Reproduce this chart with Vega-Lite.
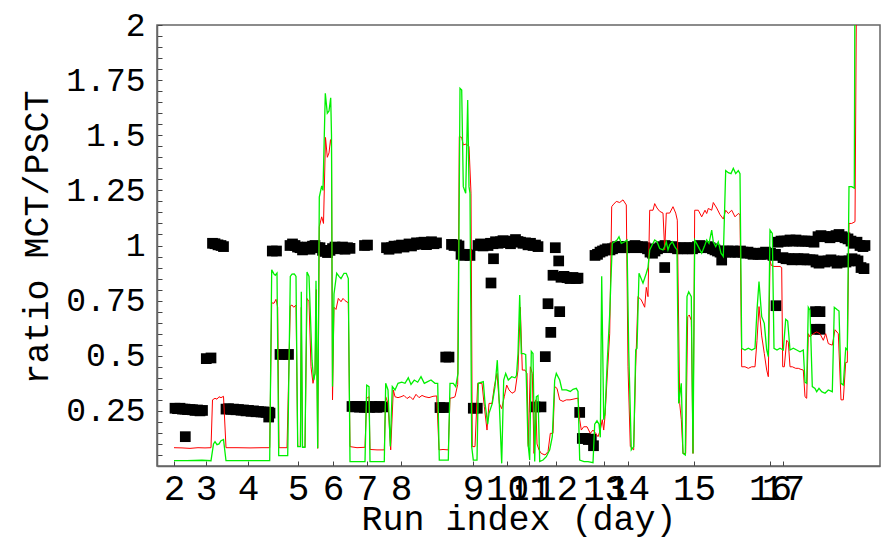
{
  "$schema": "https://vega.github.io/schema/vega-lite/v6.json",
  "autosize": {"type": "none"},
  "padding": {"left": 157, "top": 25, "right": 2, "bottom": 71},
  "width": 723,
  "height": 441,
  "background": "white",
  "config": {
    "view": {"stroke": "#666666", "strokeWidth": 1.5},
    "axis": {"grid": false, "domainColor": "#666666", "domainWidth": 1.5, "tickColor": "#444444", "tickWidth": 1, "labelColor": "black", "titleColor": "black", "labelFont": "Liberation Mono", "titleFont": "Liberation Mono", "titleFontWeight": "normal"}
  },
  "datasets": {
    "red": [
      {"x":17,"y":0.083},{"x":25,"y":0.082},{"x":33,"y":0.08},{"x":41,"y":0.083},{"x":48,"y":0.082},{"x":54,"y":0.083},{"x":55.5,"y":0.3},{"x":58,"y":0.307},{"x":60,"y":0.303},{"x":62,"y":0.314},{"x":64,"y":0.31},{"x":66.5,"y":0.316},{"x":69,"y":0.083},{"x":80,"y":0.083},{"x":93,"y":0.082},{"x":105,"y":0.083},{"x":112.7,"y":0.083},{"x":114.7,"y":0.74},{"x":117,"y":0.738},{"x":119,"y":0.756},{"x":120.7,"y":0.72},{"x":122,"y":0.083},{"x":130,"y":0.083},{"x":133.3,"y":0.726},{"x":135,"y":0.73},{"x":136.7,"y":0.72},{"x":139,"y":0.73},{"x":140.7,"y":0.09},{"x":143.3,"y":0.088},{"x":144.3,"y":0.72},{"x":145.5,"y":0.085},{"x":148,"y":0.085},{"x":150,"y":0.76},{"x":152,"y":0.745},{"x":154,"y":0.45},{"x":156,"y":0.375},{"x":158,"y":0.42},{"x":159.3,"y":0.8},{"x":160.7,"y":0.08},{"x":162.3,"y":1.085},{"x":164.7,"y":1.13},{"x":166.5,"y":1.1},{"x":168.5,"y":1.49},{"x":170.3,"y":1.4},{"x":172,"y":1.42},{"x":173.5,"y":1.48},{"x":174.5,"y":1.45},{"x":175.5,"y":0.3},{"x":177,"y":0.72},{"x":179,"y":0.71},{"x":181.3,"y":0.76},{"x":184,"y":0.745},{"x":186,"y":0.76},{"x":188,"y":0.75},{"x":191.3,"y":0.74},{"x":193,"y":0.088},{"x":200,"y":0.083},{"x":208,"y":0.085},{"x":209.7,"y":0.307},{"x":212,"y":0.314},{"x":213,"y":0.075},{"x":220,"y":0.073},{"x":227.3,"y":0.073},{"x":228.7,"y":0.314},{"x":231,"y":0.284},{"x":233.7,"y":0.073},{"x":236.3,"y":0.345},{"x":238,"y":0.314},{"x":241,"y":0.31},{"x":244,"y":0.314},{"x":247,"y":0.32},{"x":250,"y":0.306},{"x":253,"y":0.315},{"x":256,"y":0.301},{"x":259,"y":0.325},{"x":262,"y":0.31},{"x":265,"y":0.32},{"x":268,"y":0.314},{"x":272,"y":0.31},{"x":276,"y":0.316},{"x":279.7,"y":0.318},{"x":282,"y":0.073},{"x":286,"y":0.075},{"x":291.3,"y":0.073},{"x":293,"y":0.307},{"x":296,"y":0.31},{"x":298,"y":0.314},{"x":300.7,"y":0.37},{"x":302.3,"y":1.494},{"x":304.7,"y":1.49},{"x":306.3,"y":1.456},{"x":309,"y":1.46},{"x":312,"y":1.45},{"x":314,"y":1.237},{"x":315.3,"y":0.088},{"x":318,"y":0.088},{"x":320.7,"y":0.375},{"x":325,"y":0.375},{"x":327.3,"y":0.27},{"x":330,"y":0.163},{"x":332,"y":0.284},{"x":335,"y":0.284},{"x":337.3,"y":0.36},{"x":340,"y":0.42},{"x":342.3,"y":0.284},{"x":344.7,"y":0.26},{"x":347.3,"y":0.314},{"x":349.7,"y":0.367},{"x":352,"y":0.345},{"x":355,"y":0.33},{"x":358,"y":0.338},{"x":361,"y":0.435},{"x":363.3,"y":0.72},{"x":365.3,"y":0.435},{"x":368,"y":0.435},{"x":370,"y":0.42},{"x":371.3,"y":0.088},{"x":373.3,"y":0.45},{"x":375.3,"y":0.42},{"x":377,"y":0.057},{"x":378.7,"y":0.3},{"x":380,"y":0.1},{"x":382,"y":0.073},{"x":384.3,"y":0.057},{"x":388,"y":0.05},{"x":391,"y":0.065},{"x":393.3,"y":0.148},{"x":396,"y":0.148},{"x":397.7,"y":0.36},{"x":400,"y":0.352},{"x":402.7,"y":0.3},{"x":406,"y":0.293},{"x":409.3,"y":0.3},{"x":413,"y":0.3},{"x":416,"y":0.303},{"x":421,"y":0.308},{"x":422.7,"y":0.21},{"x":424.3,"y":0.163},{"x":426.7,"y":0.178},{"x":430,"y":0.178},{"x":433.3,"y":0.148},{"x":436,"y":0.163},{"x":438.7,"y":0.148},{"x":441,"y":0.133},{"x":443.3,"y":0.163},{"x":445.3,"y":0.21},{"x":446.7,"y":0.163},{"x":448,"y":0.225},{"x":450,"y":0.39},{"x":452.7,"y":0.6},{"x":454.7,"y":1.176},{"x":456,"y":1.184},{"x":459.3,"y":1.2},{"x":462.7,"y":1.195},{"x":466,"y":1.207},{"x":469.3,"y":1.184},{"x":471,"y":0.45},{"x":473.3,"y":0.088},{"x":476.7,"y":0.073},{"x":478.7,"y":0.45},{"x":481,"y":0.768},{"x":484.3,"y":0.753},{"x":487.7,"y":0.72},{"x":489.3,"y":0.81},{"x":491,"y":0.768},{"x":492.7,"y":1.16},{"x":496,"y":1.16},{"x":497.7,"y":1.19},{"x":500,"y":1.17},{"x":502.7,"y":1.155},{"x":506,"y":1.147},{"x":507.7,"y":0.98},{"x":509.3,"y":1.147},{"x":512.7,"y":1.147},{"x":516,"y":1.176},{"x":518.7,"y":1.147},{"x":520.3,"y":1.115},{"x":522.7,"y":0.284},{"x":524.3,"y":0.21},{"x":526,"y":0.057},{"x":528.7,"y":0.057},{"x":530.7,"y":0.677},{"x":532.3,"y":0.685},{"x":534.3,"y":0.66},{"x":536,"y":0.057},{"x":537.7,"y":1.16},{"x":541.3,"y":1.16},{"x":544.7,"y":1.13},{"x":548,"y":1.16},{"x":549.7,"y":1.145},{"x":551.3,"y":1.168},{"x":554.7,"y":1.16},{"x":556.3,"y":1.195},{"x":559.7,"y":1.17},{"x":563,"y":1.14},{"x":566.3,"y":1.12},{"x":568.7,"y":1.16},{"x":571.3,"y":1.145},{"x":574.7,"y":1.16},{"x":578,"y":1.13},{"x":581.3,"y":1.145},{"x":583,"y":1.14},{"x":584.7,"y":0.45},{"x":588,"y":0.45},{"x":591.3,"y":0.443},{"x":594.7,"y":0.45},{"x":598,"y":0.45},{"x":600,"y":0.57},{"x":602,"y":0.723},{"x":604.7,"y":0.59},{"x":607.3,"y":0.51},{"x":609.7,"y":0.435},{"x":611.3,"y":0.405},{"x":613,"y":0.93},{"x":614.3,"y":0.91},{"x":617,"y":0.905},{"x":620,"y":0.905},{"x":623,"y":0.905},{"x":624.7,"y":0.9},{"x":625.7,"y":0.45},{"x":627.3,"y":0.45},{"x":629.7,"y":0.57},{"x":631.3,"y":0.562},{"x":633,"y":0.45},{"x":635.3,"y":0.45},{"x":638.7,"y":0.443},{"x":641.3,"y":0.443},{"x":644,"y":0.438},{"x":646.3,"y":0.435},{"x":648,"y":0.314},{"x":649.7,"y":0.307},{"x":651.3,"y":0.6},{"x":653,"y":0.585},{"x":656.3,"y":0.6},{"x":659.7,"y":0.608},{"x":663,"y":0.6},{"x":666.3,"y":0.57},{"x":668.7,"y":0.6},{"x":671.3,"y":0.555},{"x":675.3,"y":0.548},{"x":678,"y":0.618},{"x":681.3,"y":0.6},{"x":684,"y":0.3},{"x":686.3,"y":0.3},{"x":688.7,"y":0.47},{"x":690.3,"y":0.47},{"x":692,"y":1.1},{"x":694.7,"y":1.1},{"x":698,"y":1.108},{"x":699.7,"y":2.3}
    ],
    "green": [
      {"x":17,"y":0.024},{"x":30,"y":0.024},{"x":45,"y":0.026},{"x":54,"y":0.024},{"x":56.5,"y":0.1},{"x":58,"y":0.11},{"x":60,"y":0.097},{"x":62,"y":0.1},{"x":64,"y":0.115},{"x":66.5,"y":0.12},{"x":69,"y":0.024},{"x":90,"y":0.024},{"x":112.7,"y":0.024},{"x":114.7,"y":0.89},{"x":117,"y":0.87},{"x":118.3,"y":0.865},{"x":120,"y":0.875},{"x":121.7,"y":0.047},{"x":125,"y":0.047},{"x":130.7,"y":0.047},{"x":133.3,"y":0.86},{"x":135,"y":0.87},{"x":137.3,"y":0.871},{"x":139,"y":0.86},{"x":140.7,"y":0.088},{"x":143.5,"y":0.088},{"x":144.3,"y":0.79},{"x":145.5,"y":0.085},{"x":148,"y":0.085},{"x":150,"y":0.88},{"x":152,"y":0.86},{"x":155,"y":0.48},{"x":156.7,"y":0.39},{"x":158,"y":0.42},{"x":159,"y":0.84},{"x":160.7,"y":0.08},{"x":162.3,"y":1.22},{"x":164.7,"y":1.27},{"x":166,"y":1.25},{"x":168.3,"y":1.69},{"x":170.3,"y":1.6},{"x":172,"y":1.61},{"x":173.7,"y":1.67},{"x":174.5,"y":1.5},{"x":175.5,"y":0.36},{"x":177,"y":0.78},{"x":179.7,"y":0.874},{"x":182,"y":0.86},{"x":184,"y":0.85},{"x":187,"y":0.874},{"x":189.3,"y":0.874},{"x":191.3,"y":0.85},{"x":193,"y":0.02},{"x":200,"y":0.02},{"x":208,"y":0.02},{"x":209.7,"y":0.367},{"x":212,"y":0.36},{"x":213,"y":0.02},{"x":220,"y":0.02},{"x":227.3,"y":0.02},{"x":228.7,"y":0.375},{"x":231,"y":0.345},{"x":233.3,"y":0.088},{"x":235.3,"y":0.36},{"x":238,"y":0.345},{"x":241,"y":0.375},{"x":244.7,"y":0.38},{"x":248,"y":0.375},{"x":251.3,"y":0.4},{"x":254,"y":0.37},{"x":257.3,"y":0.39},{"x":260.7,"y":0.38},{"x":264,"y":0.405},{"x":267.3,"y":0.375},{"x":270.7,"y":0.383},{"x":274,"y":0.39},{"x":278,"y":0.375},{"x":280.7,"y":0.375},{"x":282.3,"y":0.027},{"x":288,"y":0.027},{"x":291.3,"y":0.027},{"x":293,"y":0.375},{"x":296.3,"y":0.375},{"x":298.7,"y":0.36},{"x":301,"y":0.42},{"x":303,"y":1.713},{"x":304.7,"y":1.705},{"x":306.3,"y":1.267},{"x":308.7,"y":1.237},{"x":310.7,"y":1.66},{"x":312,"y":1.267},{"x":313,"y":1.237},{"x":314.7,"y":0.088},{"x":316.3,"y":0.027},{"x":320,"y":0.027},{"x":321.3,"y":0.375},{"x":326.3,"y":0.383},{"x":328,"y":0.284},{"x":330.7,"y":0.19},{"x":332,"y":0.239},{"x":335.3,"y":0.284},{"x":338,"y":0.36},{"x":340.3,"y":0.48},{"x":342.3,"y":0.284},{"x":344.7,"y":0.012},{"x":346.7,"y":0.39},{"x":348.7,"y":0.42},{"x":351.3,"y":0.39},{"x":354.7,"y":0.405},{"x":358,"y":0.4},{"x":359.5,"y":0.41},{"x":361,"y":0.51},{"x":362.7,"y":0.775},{"x":364.3,"y":0.51},{"x":366.7,"y":0.51},{"x":368.7,"y":0.505},{"x":371,"y":0.103},{"x":372.7,"y":0.027},{"x":374.3,"y":0.52},{"x":376,"y":0.51},{"x":377.7,"y":0.02},{"x":379.3,"y":0.314},{"x":381,"y":0.32},{"x":382.7,"y":0.02},{"x":386,"y":0.027},{"x":389.3,"y":0.042},{"x":392.7,"y":0.073},{"x":395.3,"y":0.133},{"x":397.7,"y":0.39},{"x":399.3,"y":0.42},{"x":402.7,"y":0.39},{"x":405,"y":0.345},{"x":409.3,"y":0.345},{"x":413.3,"y":0.338},{"x":416,"y":0.348},{"x":419.3,"y":0.352},{"x":421,"y":0.338},{"x":422.7,"y":0.027},{"x":427,"y":0.02},{"x":431,"y":0.02},{"x":436,"y":0.015},{"x":437.7,"y":0.19},{"x":440,"y":0.205},{"x":442,"y":0.19},{"x":443.3,"y":0.13},{"x":444.7,"y":0.86},{"x":446.7,"y":0.21},{"x":448,"y":0.239},{"x":450,"y":0.45},{"x":452.7,"y":0.69},{"x":455.3,"y":1.01},{"x":457.7,"y":1.017},{"x":460,"y":1.025},{"x":462,"y":1.04},{"x":464.3,"y":1.01},{"x":467.7,"y":1.017},{"x":470,"y":1.025},{"x":471.7,"y":0.526},{"x":474.3,"y":0.073},{"x":476.7,"y":0.088},{"x":478.7,"y":0.526},{"x":480,"y":0.534},{"x":482,"y":0.874},{"x":486,"y":0.829},{"x":489.3,"y":0.874},{"x":491,"y":0.9},{"x":492.7,"y":0.98},{"x":496,"y":1.01},{"x":497.7,"y":1.025},{"x":500,"y":1.017},{"x":502.7,"y":0.986},{"x":506,"y":0.98},{"x":507.7,"y":0.995},{"x":509.3,"y":1.017},{"x":511,"y":0.98},{"x":512.7,"y":1.003},{"x":515.3,"y":1.017},{"x":517.7,"y":0.995},{"x":520,"y":0.98},{"x":521.7,"y":0.284},{"x":524.3,"y":0.375},{"x":526,"y":0.057},{"x":528.3,"y":0.05},{"x":530,"y":0.768},{"x":531.7,"y":0.79},{"x":534.3,"y":0.768},{"x":536,"y":0.057},{"x":537.7,"y":1.025},{"x":541.3,"y":0.995},{"x":544.7,"y":0.965},{"x":547.3,"y":0.995},{"x":549.7,"y":1.025},{"x":552,"y":1.01},{"x":554.7,"y":1.07},{"x":556.3,"y":1.017},{"x":558.7,"y":0.995},{"x":561.3,"y":1.017},{"x":564,"y":0.965},{"x":566.3,"y":0.95},{"x":568.7,"y":1.34},{"x":571.3,"y":1.33},{"x":574,"y":1.326},{"x":576.3,"y":1.35},{"x":578.7,"y":1.326},{"x":581.3,"y":1.34},{"x":583,"y":1.326},{"x":584.7,"y":0.534},{"x":588,"y":0.526},{"x":591.3,"y":0.534},{"x":594.7,"y":0.526},{"x":598,"y":0.534},{"x":600,"y":0.707},{"x":602,"y":0.836},{"x":604.7,"y":0.677},{"x":607.3,"y":0.647},{"x":609.7,"y":0.526},{"x":611.3,"y":0.496},{"x":613,"y":1.07},{"x":615.3,"y":1.055},{"x":617,"y":0.534},{"x":620,"y":0.526},{"x":623,"y":0.534},{"x":626.3,"y":0.526},{"x":628.7,"y":0.665},{"x":630.7,"y":0.657},{"x":633,"y":0.526},{"x":636.3,"y":0.534},{"x":639.7,"y":0.526},{"x":643,"y":0.518},{"x":646.3,"y":0.526},{"x":648,"y":0.38},{"x":649.7,"y":0.375},{"x":651.3,"y":0.72},{"x":653,"y":0.707},{"x":655.3,"y":0.36},{"x":658,"y":0.352},{"x":659.7,"y":0.337},{"x":662,"y":0.352},{"x":664.7,"y":0.337},{"x":668,"y":0.33},{"x":671.3,"y":0.345},{"x":675.3,"y":0.337},{"x":677.3,"y":0.72},{"x":680,"y":0.71},{"x":682,"y":0.703},{"x":684,"y":0.375},{"x":686.3,"y":0.367},{"x":688.7,"y":0.534},{"x":690.3,"y":0.526},{"x":692,"y":1.267},{"x":694.7,"y":1.267},{"x":697.3,"y":1.26},{"x":698,"y":2.3}
    ],
    "pts": [
      {"x":18,"y":0.262},{"x":20.5,"y":0.26},{"x":23,"y":0.262},{"x":25.5,"y":0.258},{"x":28,"y":0.258},{"x":30.5,"y":0.256},{"x":33,"y":0.256},{"x":35.5,"y":0.255},{"x":38,"y":0.252},{"x":40.5,"y":0.254},{"x":43,"y":0.25},{"x":45.5,"y":0.252},
      {"x":28.3,"y":0.133},{"x":49.3,"y":0.487},{"x":54,"y":0.49},
      {"x":55.5,"y":1.01},{"x":58,"y":1.008},{"x":61,"y":1.003},{"x":64,"y":1.0},{"x":66.5,"y":0.995},
      {"x":69,"y":0.258},{"x":71.5,"y":0.26},{"x":74,"y":0.257},{"x":76.5,"y":0.258},{"x":79,"y":0.255},{"x":81.5,"y":0.256},{"x":84,"y":0.253},{"x":86.5,"y":0.254},{"x":89,"y":0.25},{"x":91.5,"y":0.252},{"x":94,"y":0.248},{"x":96.5,"y":0.25},{"x":99,"y":0.246},{"x":101.5,"y":0.247},{"x":104,"y":0.245},{"x":106.5,"y":0.245},{"x":109,"y":0.243},{"x":111.5,"y":0.244},{"x":113,"y":0.24},{"x":111.7,"y":0.222},
      {"x":115.3,"y":0.975},{"x":119.5,"y":0.975},{"x":123,"y":0.506},{"x":127.5,"y":0.506},{"x":131.5,"y":0.506},
      {"x":133,"y":1.0},{"x":135.5,"y":1.007},{"x":138,"y":1.0},{"x":140.5,"y":0.993},{"x":143,"y":0.99},{"x":145.5,"y":0.98},{"x":148,"y":0.986},{"x":150.5,"y":0.993},{"x":153,"y":0.983},{"x":155.5,"y":0.997},{"x":158,"y":1.0},{"x":160.5,"y":0.99},{"x":163,"y":0.99},{"x":165.5,"y":0.978},{"x":168,"y":0.973},{"x":170.5,"y":0.968},{"x":173,"y":0.978},{"x":175.5,"y":0.986},{"x":178,"y":0.993},{"x":180.5,"y":0.985},{"x":183,"y":0.99},{"x":185.5,"y":0.993},{"x":188,"y":0.983},{"x":190.5,"y":0.99},{"x":193,"y":0.987},
      {"x":207.5,"y":1.0},{"x":210.5,"y":1.002},
      {"x":195,"y":0.27},{"x":197.5,"y":0.268},{"x":200,"y":0.27},{"x":202.5,"y":0.267},{"x":205,"y":0.27},{"x":207.5,"y":0.266},{"x":210,"y":0.268},{"x":212.5,"y":0.266},{"x":215,"y":0.27},{"x":217.5,"y":0.268},{"x":220,"y":0.266},{"x":222.5,"y":0.27},{"x":226,"y":0.268},
      {"x":229.5,"y":0.99},{"x":232,"y":0.983},{"x":234.5,"y":0.99},{"x":237,"y":0.997},{"x":239.5,"y":0.988},{"x":242,"y":0.998},{"x":244.5,"y":1.002},{"x":247,"y":0.993},{"x":249.5,"y":1.0},{"x":252,"y":1.007},{"x":254.5,"y":0.998},{"x":257,"y":1.005},{"x":259.5,"y":1.012},{"x":262,"y":1.006},{"x":264.5,"y":1.012},{"x":267,"y":1.015},{"x":269.5,"y":1.004},{"x":272,"y":1.01},{"x":274.5,"y":1.017},{"x":277,"y":1.008},{"x":279.5,"y":1.012},
      {"x":283,"y":0.265},{"x":287,"y":0.265},{"x":288.7,"y":0.494},{"x":292,"y":0.494},
      {"x":294.5,"y":1.005},{"x":297,"y":1.0},{"x":299.5,"y":1.003},{"x":302,"y":0.998},
      {"x":304,"y":0.96},{"x":307,"y":0.955},{"x":310,"y":0.96},{"x":313,"y":0.955},
      {"x":316.3,"y":0.262},{"x":320.3,"y":0.262},
      {"x":321,"y":1.0},{"x":323.5,"y":1.007},{"x":326,"y":0.998},{"x":328.5,"y":1.005},{"x":331,"y":1.0},{"x":333.5,"y":1.01},{"x":336,"y":1.008},{"x":338.5,"y":1.017},{"x":341,"y":1.01},{"x":343.5,"y":1.017},{"x":346,"y":1.022},{"x":348.5,"y":1.016},{"x":351,"y":1.013},{"x":353.5,"y":1.008},{"x":356,"y":1.02},{"x":358.5,"y":1.027},{"x":361,"y":1.018},{"x":363.5,"y":1.015},{"x":366,"y":1.01},{"x":368.5,"y":1.012},{"x":371,"y":1.003},{"x":373.5,"y":1.01},{"x":376,"y":1.0},{"x":378.5,"y":1.002},{"x":381,"y":0.995},
      {"x":336.5,"y":0.94},{"x":334,"y":0.83},{"x":378,"y":0.268},{"x":384,"y":0.268},
      {"x":398.3,"y":0.99},{"x":401.7,"y":0.93},{"x":396,"y":0.865},{"x":404,"y":0.856},{"x":407,"y":0.86},{"x":410,"y":0.854},{"x":413,"y":0.85},{"x":416,"y":0.855},{"x":419,"y":0.85},{"x":421,"y":0.852},{"x":391,"y":0.736},{"x":402.7,"y":0.7},{"x":393.8,"y":0.606},{"x":388.3,"y":0.496},{"x":422.7,"y":0.243},{"x":425.3,"y":0.125},{"x":428.3,"y":0.125},{"x":431.3,"y":0.12},{"x":434.3,"y":0.122},{"x":436.5,"y":0.092},
      {"x":438,"y":0.955},{"x":440.5,"y":0.96},{"x":443,"y":0.97},{"x":445.5,"y":0.975},{"x":448,"y":0.98},{"x":450.5,"y":0.985},{"x":453,"y":0.98},{"x":455.5,"y":0.985},{"x":458,"y":0.99},{"x":460.5,"y":0.995},{"x":463,"y":0.99},{"x":465.5,"y":0.995},{"x":468,"y":0.99},{"x":470.5,"y":0.995},{"x":473,"y":0.99},{"x":475.5,"y":0.995},{"x":478,"y":1.0},{"x":480.5,"y":0.995},{"x":483,"y":0.99},{"x":485.5,"y":0.995},{"x":488,"y":0.99},{"x":490.5,"y":0.985},{"x":493,"y":0.97},{"x":495.5,"y":0.965},{"x":498,"y":0.975},{"x":500.5,"y":0.985},{"x":503,"y":0.99},{"x":505.5,"y":0.995},{"x":508,"y":1.0},{"x":510.5,"y":0.995},{"x":513,"y":0.99},{"x":515.5,"y":0.995},{"x":518,"y":0.99},{"x":520.5,"y":0.985},{"x":523,"y":0.99},{"x":525.5,"y":0.985},{"x":528,"y":0.99},{"x":530.5,"y":0.985},{"x":533,"y":0.99},{"x":535.5,"y":0.985},{"x":507.7,"y":0.9},
      {"x":538,"y":0.99},{"x":540.5,"y":0.995},{"x":543,"y":1.0},{"x":545.5,"y":0.995},{"x":548,"y":0.99},{"x":550.5,"y":0.995},{"x":553,"y":0.99},{"x":555.5,"y":0.985},{"x":558,"y":0.98},{"x":560.5,"y":0.975},{"x":563,"y":0.97},{"x":564.7,"y":0.934},{"x":566,"y":0.975},{"x":568.5,"y":0.97},{"x":571,"y":0.975},{"x":573.5,"y":0.97},{"x":576,"y":0.975},{"x":578.5,"y":0.97},{"x":581,"y":0.97},{"x":583.5,"y":0.975},{"x":586,"y":0.97},{"x":588.5,"y":0.965},{"x":591,"y":0.97},{"x":593.5,"y":0.965},{"x":596,"y":0.96},{"x":598.5,"y":0.965},{"x":601,"y":0.96},{"x":603.5,"y":0.96},{"x":606,"y":0.965},{"x":608.5,"y":0.97},{"x":611,"y":0.96},{"x":613.5,"y":0.965},{"x":616,"y":0.955},{"x":618.5,"y":0.96},
      {"x":621,"y":1.015},{"x":624,"y":1.02},{"x":627,"y":1.02},{"x":630,"y":1.02},{"x":633,"y":1.025},{"x":636,"y":1.02},{"x":639,"y":1.025},{"x":642,"y":1.02},{"x":645,"y":1.02},{"x":648,"y":1.02},{"x":651,"y":1.02},{"x":654,"y":1.018},{"x":657,"y":1.015},
      {"x":626,"y":0.945},{"x":629,"y":0.94},{"x":632,"y":0.94},{"x":635,"y":0.935},{"x":638,"y":0.94},{"x":641,"y":0.94},{"x":644,"y":0.935},{"x":647,"y":0.94},{"x":650,"y":0.935},{"x":653,"y":0.935},{"x":656,"y":0.935},
      {"x":661,"y":1.04},{"x":664,"y":1.045},{"x":667,"y":1.04},{"x":670,"y":1.04},{"x":673,"y":1.035},{"x":676,"y":1.04},{"x":679,"y":1.045},{"x":682,"y":1.05},{"x":685,"y":1.04},{"x":688,"y":1.035},{"x":691,"y":1.03},{"x":694,"y":1.02},{"x":697,"y":1.01},{"x":700,"y":1.015},{"x":703,"y":1.0},{"x":706,"y":0.995},{"x":708,"y":1.0},
      {"x":659,"y":0.925},{"x":662,"y":0.92},{"x":665,"y":0.93},{"x":668,"y":0.925},{"x":671,"y":0.93},{"x":674,"y":0.935},{"x":677,"y":0.93},{"x":680,"y":0.92},{"x":683,"y":0.925},{"x":686,"y":0.93},{"x":689,"y":0.925},{"x":692,"y":0.93},{"x":695,"y":0.94},{"x":698,"y":0.935},{"x":701,"y":0.93},{"x":704,"y":0.9},{"x":707,"y":0.895},
      {"x":619,"y":0.727},{"x":658.5,"y":0.7},{"x":663,"y":0.7},{"x":658.5,"y":0.62},{"x":663,"y":0.62}
    ]
  },
  "encoding": {
    "x": {
      "field": "x", "type": "quantitative",
      "scale": {"domain": [0, 723], "nice": false, "zero": false},
      "axis": {
        "title": "Run index (day)",
        "values": [17, 49, 91, 141, 176, 210, 244, 316, 350, 372, 399, 447, 471, 537, 613, 626],
        "labelExpr": "['2','3','4','5','6','7','8','9','10','11','12','13','14','15','16','17'][indexof([17,49,91,141,176,210,244,316,350,372,399,447,471,537,613,626], datum.value)]",
        "labelFontSize": 36, "labelBaseline": "alphabetic", "tickSize": -5, "labelPadding": 38,
        "labelOverlap": false, "labelFlush": false,
        "titleFontSize": 35, "titleBaseline": "alphabetic", "titleY": 63
      }
    },
    "y": {
      "field": "y", "type": "quantitative",
      "scale": {"domain": [0, 2], "nice": false, "zero": false},
      "axis": {
        "title": "ratio MCT/PSCT",
        "values": [0.05,0.1,0.15,0.2,0.25,0.3,0.35,0.4,0.45,0.5,0.55,0.6,0.65,0.7,0.75,0.8,0.85,0.9,0.95,1,1.05,1.1,1.15,1.2,1.25,1.3,1.35,1.4,1.45,1.5,1.55,1.6,1.65,1.7,1.75,1.8,1.85,1.9,1.95,2],
        "labelExpr": "abs(datum.value*4 - round(datum.value*4)) < 0.001 ? format(datum.value, '.2~f') : ''",
        "labelFontSize": 33, "labelBaseline": "middle", "tickSize": -5, "labelPadding": 17,
        "labelOverlap": false, "labelFlush": false,
        "titleFontSize": 35, "titleBaseline": "alphabetic", "titleX": -110, "titleY": 212
      }
    }
  },
  "layer": [
    {"data": {"name": "pts"}, "mark": {"type": "square", "size": 115, "filled": true, "color": "black", "opacity": 1}},
    {"data": {"name": "red"}, "mark": {"type": "line", "color": "#ff0000", "strokeWidth": 1, "clip": true}},
    {"data": {"name": "green"}, "mark": {"type": "line", "color": "#00f000", "strokeWidth": 1.3, "clip": true}}
  ]
}
